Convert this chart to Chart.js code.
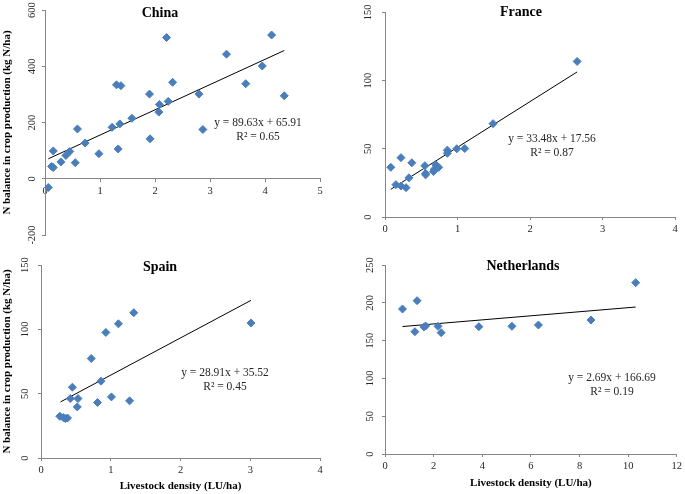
<!DOCTYPE html>
<html><head><meta charset="utf-8">
<script src="https://cdn.jsdelivr.net/npm/chart.js@4.4.0/dist/chart.umd.min.js"></script>
<style>
html,body{margin:0;padding:0;background:#fff;}
#wrap{position:relative;width:685px;height:494px;overflow:hidden;background:#fff;}
canvas{position:absolute;}
</style></head><body>
<div id="wrap">
<canvas id="c1" width="340" height="250" style="left:0;top:0"></canvas>
<canvas id="c2" width="345" height="250" style="left:340px;top:0"></canvas>
<canvas id="c3" width="340" height="244" style="left:0;top:250px"></canvas>
<canvas id="c4" width="345" height="244" style="left:340px;top:250px"></canvas>
</div>
<script>
// ---- Data ----
const chinaX = [0.06,0.12,0.15,0.15,0.29,0.38,0.45,0.55,0.59,0.73,0.98,1.22,1.30,1.38,1.36,1.33,1.58,1.90,1.91,2.08,2.07,2.21,2.24,2.32,2.80,2.87,3.30,3.65,3.95,4.12,4.35];
const chinaY = [-31,44,40,99,60,83,97,57,177,127,89,183,334,331,195,106,215,301,142,264,237,502,275,343,301,175,443,338,401,511,295];
const chinaTrendX = [0.06,4.35];
const chinaTrendY = [71,456];

const franceX = [0.08,0.15,0.22,0.22,0.29,0.33,0.37,0.55,0.56,0.56,0.67,0.68,0.70,0.72,0.74,0.86,0.86,0.99,1.10,1.49,2.65];
const franceY = [36.4,23.7,43.5,22.7,21.5,28.7,39.7,37.6,32.0,30.9,33.3,35.0,38.3,37.0,36.4,49.0,46.7,50.0,50.2,68.4,114.0];
const franceTrendX = [0.08,2.65];
const franceTrendY = [20.3,106.3];

const spainX = [0.27,0.32,0.35,0.38,0.42,0.45,0.53,0.52,0.72,0.81,0.86,0.93,1.01,1.11,1.27,1.33,3.01];
const spainY = [32.4,31.4,30.6,31.1,46.2,55.0,46.2,39.7,77.3,43.1,59.7,97.6,47.5,104.3,44.4,112.9,104.9];
const spainTrendX = [0.28,3.01];
const spainTrendY = [43.6,122.5];

const nlX = [0.72,1.23,1.32,1.60,1.67,2.18,2.31,3.86,5.22,6.31,8.47,10.31];
const nlY = [191.8,161.8,202.8,168.0,169.3,168.9,160.5,168.4,168.9,170.6,177.2,226.6];
const nlTrendX = [0.72,10.31];
const nlTrendY = [168.6,194.4];

const panelTitles = ['China','France','Spain','Netherlands'];
const equations = ['y = 89.63x + 65.91','y = 33.48x + 17.56','y = 28.91x + 35.52','y = 2.69x + 166.69'];
const rSquared = ['R² = 0.65','R² = 0.87','R² = 0.45','R² = 0.19'];
const yAxisTitle = 'N balance in crop production (kg N/ha)';
const xAxisTitle = 'Livestock density (LU/ha)';

// ---- Rendering ----
const FONT = "'Liberation Serif', 'Times New Roman', serif";
const AXIS = '#868686';
const TXT = '#262626';
const MARK = '#4A7EBB';

function pts(xs, ys){ return xs.map((x,i)=>({x:x, y:ys[i]})); }

const textPlugin = {
  id: 'panelText',
  afterDraw(chart, args, o) {
    const ctx = chart.ctx;
    ctx.save();
    ctx.fillStyle = '#000';
    ctx.textAlign = 'center';
    ctx.textBaseline = 'middle';
    ctx.font = 'bold 14px ' + FONT;
    ctx.fillText(o.title, o.titlePos[0], o.titlePos[1]);
    ctx.fillStyle = TXT;
    ctx.font = '11.5px ' + FONT;
    ctx.fillText(o.eq, o.eqPos[0], o.eqPos[1]);
    ctx.fillText(o.r2, o.eqPos[0], o.eqPos[1] + 14);
    ctx.restore();
  }
};

function makeChart(id, c) {
  const xScale = {
    type: 'linear', min: c.xMin, max: c.xMax,
    position: c.xAtZero ? {y: 0} : 'bottom',
    grid: { display: true, drawOnChartArea: false, drawTicks: true, tickLength: 3, color: AXIS },
    border: { display: true, color: AXIS, width: 1 },
    ticks: { stepSize: c.xStep, color: TXT, font: {family: FONT, size: 10.5}, padding: 3, maxRotation: 0, minRotation: 0 },
    title: c.xTitle ? { display: true, text: xAxisTitle, color: '#000', font: {family: FONT, size: 11, weight: 'bold'}, padding: {top: 0, bottom: c.xTitlePad} } : {display: false}
  };
  if (!c.xAtZero) xScale.afterFit = s => { s.height = c.xHeight; };
  const yScale = {
    type: 'linear', min: c.yMin, max: c.yMax,
    grid: { display: true, drawOnChartArea: false, drawTicks: true, tickLength: 3, color: AXIS },
    border: { display: true, color: AXIS, width: 1 },
    ticks: { stepSize: c.yStep, color: TXT, font: {family: FONT, size: 10.5}, padding: c.yPad, minRotation: 90, maxRotation: 90, crossAlign: 'center' },
    title: c.yTitle ? { display: true, text: yAxisTitle, color: '#000', font: {family: FONT, size: 11, weight: 'bold'}, padding: {top: 1, bottom: 0} } : {display: false},
    afterFit: s => { s.width = c.yWidth; }
  };
  return new Chart(document.getElementById(id), {
    type: 'scatter',
    data: { datasets: [
      { data: c.points, pointStyle: 'rectRot', pointRadius: 4, pointHoverRadius: 4,
        backgroundColor: MARK, borderColor: MARK, borderWidth: 1 },
      { type: 'line', data: c.trend, borderColor: '#000', borderWidth: 1, pointRadius: 0,
        fill: false, tension: 0 }
    ]},
    options: {
      responsive: false, animation: false, events: [],
      layout: { padding: c.padding },
      plugins: { legend: {display: false}, tooltip: {enabled: false},
        panelText: { title: c.title, titlePos: c.titlePos, eq: c.eq, r2: c.r2, eqPos: c.eqPos } },
      scales: { x: xScale, y: yScale }
    },
    plugins: [textPlugin]
  });
}

makeChart('c1', {
  points: pts(chinaX, chinaY), trend: pts(chinaTrendX, chinaTrendY),
  xMin: 0, xMax: 5, xStep: 1, yMin: -200, yMax: 600, yStep: 200, xAtZero: true,
  yTitle: true, xTitle: false, yWidth: 45, yPad: 0,
  padding: {left: 0, top: 10, right: 20, bottom: 15},
  title: panelTitles[0], titlePos: [160, 13], eq: equations[0], r2: rSquared[0], eqPos: [258, 123]
});
makeChart('c2', {
  points: pts(franceX, franceY), trend: pts(franceTrendX, franceTrendY),
  xMin: 0, xMax: 4, xStep: 1, yMin: 0, yMax: 150, yStep: 50, xAtZero: false,
  yTitle: false, xTitle: false, yWidth: 45, yPad: 6, xHeight: 33,
  padding: {left: 0, top: 8, right: 10, bottom: 0},
  title: panelTitles[1], titlePos: [181, 12], eq: equations[1], r2: rSquared[1], eqPos: [212, 139]
});
makeChart('c3', {
  points: pts(spainX, spainY), trend: pts(spainTrendX, spainTrendY),
  xMin: 0, xMax: 4, xStep: 1, yMin: 0, yMax: 150, yStep: 50, xAtZero: false,
  yTitle: true, xTitle: true, xTitlePad: 1, yWidth: 41, yPad: 5, xHeight: 36,
  padding: {left: 0, top: 15, right: 20, bottom: 0},
  title: panelTitles[2], titlePos: [160, 17], eq: equations[2], r2: rSquared[2], eqPos: [225, 123]
});
makeChart('c4', {
  points: pts(nlX, nlY), trend: pts(nlTrendX, nlTrendY),
  xMin: 0, xMax: 12, xStep: 2, yMin: 0, yMax: 250, yStep: 50, xAtZero: false,
  yTitle: false, xTitle: true, xTitlePad: 4, yWidth: 45, yPad: 4, xHeight: 40,
  padding: {left: 0, top: 15, right: 5, bottom: 0},
  title: panelTitles[3], titlePos: [183, 16], eq: equations[3], r2: rSquared[3], eqPos: [272, 128]
});
</script>
</body></html>
